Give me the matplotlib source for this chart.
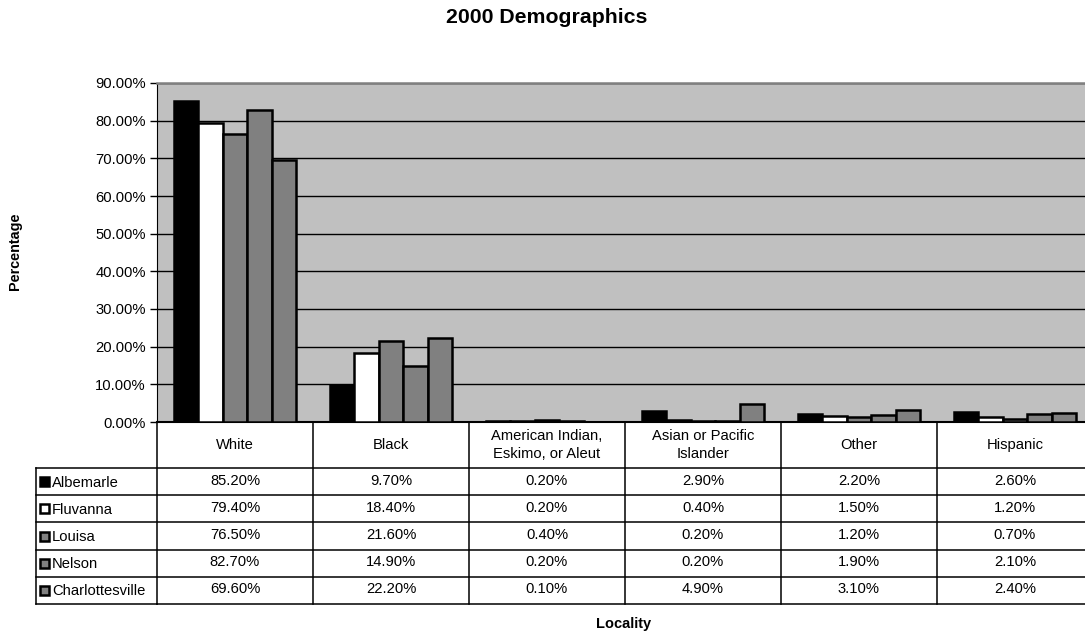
import matplotlib
matplotlib.use("Agg")
import matplotlib.pyplot as plt
from matplotlib.patches import Rectangle
import numpy as np

plt.rcParams['font.family'] = ['Liberation Sans', 'DejaVu Sans']

# ---- data -------------------------------------------------------------
categories = ["White", "Black", "American Indian,\nEskimo, or Aleut",
              "Asian or Pacific\nIslander", "Other", "Hispanic"]
localities = ["Albemarle", "Fluvanna", "Louisa", "Nelson", "Charlottesville"]

albemarle = [85.2, 9.7, 0.2, 2.9, 2.2, 2.6]
fluvanna = [79.4, 18.4, 0.2, 0.4, 1.5, 1.2]
louisa = [76.5, 21.6, 0.4, 0.2, 1.2, 0.7]
nelson = [82.7, 14.9, 0.2, 0.2, 1.9, 2.1]
charlottesville = [69.6, 22.2, 0.1, 4.9, 3.1, 2.4]

series = [albemarle, fluvanna, louisa, nelson, charlottesville]
colors = ["#000000", "#FFFFFF", "#808080", "#808080", "#808080"]

y_ticks = [0, 10, 20, 30, 40, 50, 60, 70, 80, 90]

# ---- figure layout (pixel based) --------------------------------------
W, H = 1085, 635
fig = plt.figure(figsize=(W / 100, H / 100), dpi=100)

col_w = 156.0
plot_left, plot_top, plot_bottom = 157.0, 83.0, 422.0
n_cat = len(categories)
fs = 10.6

def fig_rect(x0, y_top, w, h):
    return [x0 / W, 1 - (y_top + h) / H, w / W, h / H]

ax = fig.add_axes(fig_rect(plot_left, plot_top, col_w * n_cat, plot_bottom - plot_top))
ax.set_facecolor("#C0C0C0")

x = np.arange(n_cat)
bar_w = 0.156
for i, (vals, c) in enumerate(zip(series, colors)):
    ax.bar(x + (i - 2) * bar_w, vals, width=bar_w, color=c,
           edgecolor="black", linewidth=1.8, zorder=3)

ax.set_xlim(-0.5, n_cat - 0.5)
ax.set_ylim(0, 90)
ax.set_yticks(y_ticks)
ax.set_yticklabels([f"{t:.2f}%" for t in y_ticks], fontsize=fs)
ax.set_xticks([])
ax.tick_params(axis="y", direction="out", length=5, width=1, color="black", pad=3)
ax.yaxis.grid(True, color="black", linewidth=1, zorder=0)
ax.set_axisbelow(True)
for s in ["top", "right"]:
    ax.spines[s].set_color("#808080")
    ax.spines[s].set_linewidth(1.8)
ax.spines["left"].set_color("black")
ax.spines["bottom"].set_color("black")
ax.spines["bottom"].set_linewidth(1.5)

# ---- data table beneath the plot --------------------------------------
header_h = 46.0
row_h = 27.2
label_w = 121.0
table_top = plot_bottom
table_h = header_h + row_h * len(localities)

tax = fig.add_axes(fig_rect(plot_left, table_top, col_w * n_cat, table_h))
tax.set_xlim(-0.5, n_cat - 0.5)
tax.set_ylim(table_h, 0)
tax.axis("off")

lbl_left = -0.5 - label_w / col_w
lc = dict(color="black", linewidth=1.1, clip_on=False)

# horizontal rules
tax.plot([-0.5, n_cat - 0.5], [table_h, table_h], **lc)
for r in range(len(localities)):
    yy = header_h + r * row_h
    tax.plot([lbl_left, n_cat - 0.5], [yy, yy], **lc)
tax.plot([lbl_left, -0.5], [table_h, table_h], **lc)
# vertical rules
for k in range(n_cat + 1):
    tax.plot([k - 0.5, k - 0.5], [0, table_h], **lc)
tax.plot([lbl_left, lbl_left], [header_h, table_h], **lc)

for k, cat in enumerate(categories):
    tax.text(k, header_h / 2, cat, ha="center", va="center",
             fontsize=fs, linespacing=1.3)

for r, (name, vals, c) in enumerate(zip(localities, series, colors)):
    yc = header_h + (r + 0.5) * row_h
    tax.add_patch(Rectangle((lbl_left + 3.5 / col_w, yc - 4.5), 9 / col_w, 9,
                            facecolor=c, edgecolor="black", linewidth=1.8,
                            clip_on=False))
    tax.text(lbl_left + 16 / col_w, yc + 1, name, ha="left", va="center",
             fontsize=fs)
    for k, v in enumerate(vals):
        tax.text(k, yc - 1, f"{v:.2f}%", ha="center", va="center", fontsize=fs)

# ---- titles -----------------------------------------------------------
fig.text(546.5 / W, 1 - 23 / H, "2000 Demographics", ha="center",
         va="baseline", fontsize=15.3, fontweight="bold")
fig.text(15 / W, 1 - 251.5 / H, "Percentage", ha="center", va="center",
         rotation=90, fontsize=10.4, fontweight="bold")
fig.text(624 / W, 1 - 628 / H, "Locality", ha="center", va="baseline",
         fontsize=10.5, fontweight="bold")

fig.savefig("out.png", dpi=100)
